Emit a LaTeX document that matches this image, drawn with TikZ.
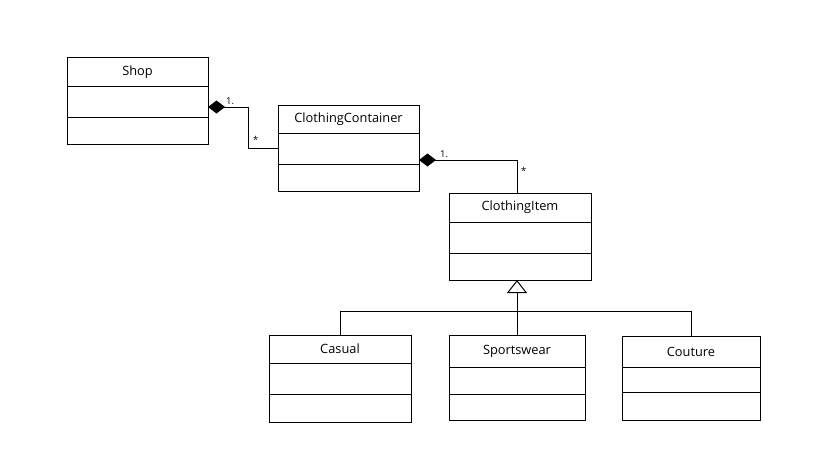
\documentclass[tikz,border=0pt]{standalone}
\usepackage{fontspec}
\setmainfont{Open Sans}
\usetikzlibrary{arrows.meta,positioning}

\tikzset{
  classname/.style={draw, line width=1pt, outer sep=0pt, inner sep=0pt,
    anchor=north west, font=\fontsize{12.8}{15}\selectfont},
  classpart/.style={draw, line width=1pt, outer sep=0pt, inner sep=0pt},
  compose/.style={line width=1pt, {Diamond[length=17pt,width=13pt]}-},
  inherit/.style={line width=1pt, -{Triangle[open,length=13pt,width=20pt]}},
  mult/.style={inner sep=0pt, font=\fontsize{9.5}{11}\selectfont}
}

\begin{document}
\begin{tikzpicture}[x=1pt,y=-1pt]
  \useasboundingbox[fill=white] (0,0) rectangle (819,460);

  % Shop
  \node[classname, minimum width=141pt, minimum height=28pt] (shop) at (67,58) {Shop};
  \node[classpart, below=0pt of shop, minimum width=141pt, minimum height=31pt] (shop-attr) {};
  \node[classpart, below=0pt of shop-attr, minimum width=141pt, minimum height=27pt] (shop-ops) {};

  % ClothingContainer
  \node[classname, minimum width=141pt, minimum height=28pt] (cont) at (278,105) {ClothingContainer};
  \node[classpart, below=0pt of cont, minimum width=141pt, minimum height=31pt] (cont-attr) {};
  \node[classpart, below=0pt of cont-attr, minimum width=141pt, minimum height=27pt] (cont-ops) {};

  % ClothingItem
  \node[classname, minimum width=142pt, minimum height=29pt] (item) at (449,193) {ClothingItem};
  \node[classpart, below=0pt of item, minimum width=142pt, minimum height=31pt] (item-attr) {};
  \node[classpart, below=0pt of item-attr, minimum width=142pt, minimum height=27pt] (item-ops) {};

  % subclasses
  \node[classname, minimum width=142pt, minimum height=28pt] (casual) at (269,335) {Casual};
  \node[classpart, below=0pt of casual, minimum width=142pt, minimum height=31pt] (casual-attr) {};
  \node[classpart, below=0pt of casual-attr, minimum width=142pt, minimum height=28pt] (casual-ops) {};

  \node[classname, minimum width=136pt, minimum height=32pt] (sport) at (449,335) {Sportswear};
  \node[classpart, below=0pt of sport, minimum width=136pt, minimum height=27pt] (sport-attr) {};
  \node[classpart, below=0pt of sport-attr, minimum width=136pt, minimum height=26pt] (sport-ops) {};

  \node[classname, minimum width=138pt, minimum height=31pt] (couture) at (622,336) {Couture};
  \node[classpart, below=0pt of couture, minimum width=138pt, minimum height=25pt] (couture-attr) {};
  \node[classpart, below=0pt of couture-attr, minimum width=138pt, minimum height=28pt] (couture-ops) {};

  % compositions
  \draw[compose] ([yshift=-5.5pt]shop-attr.east) -- ++(40,0) coordinate (bend1) |- (cont-attr.west);
  \node[mult, anchor=south west] (m1) at ([xshift=18pt,yshift=2pt]shop-attr.east |- bend1) {1.};
  \node[mult, anchor=west] (m2) at ([xshift=5pt,yshift=9pt]bend1 |- cont-attr.west) {*};

  \draw[compose] ([yshift=-11.5pt]cont-attr.east) -| coordinate (bend2) ([xshift=-3pt]item.north);
  \node[mult, anchor=south west] (m3) at ([xshift=21pt,yshift=2pt]cont-attr.east |- bend2) {1.};
  \node[mult, anchor=west] (m4) at ([xshift=4pt,yshift=-11pt]bend2) {*};

  % generalization
  \coordinate (bar) at (0,311);
  \draw[inherit] (sport.north) -- (sport.north |- item-ops.south);
  \draw[line width=1pt] (casual.north) -- (casual.north |- bar) -- (couture.north |- bar) -- (couture.north);
\end{tikzpicture}
\end{document}
